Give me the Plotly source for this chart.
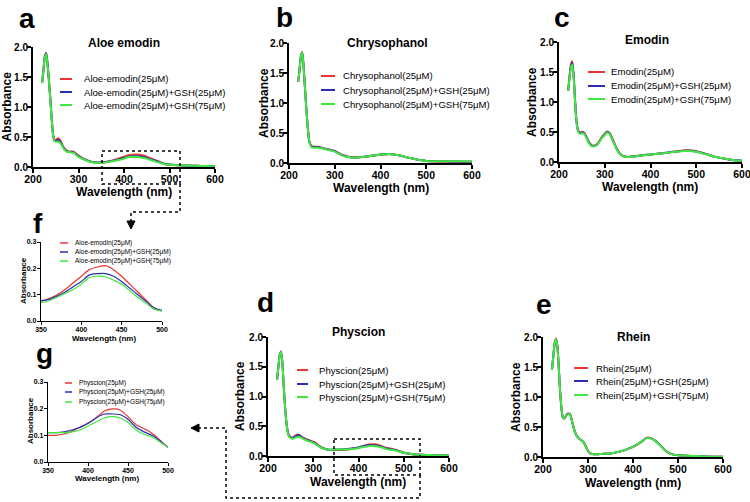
import plotly.graph_objects as go

# ---------------- data ----------------
wavelength = [220, 223, 226, 229, 232, 235, 238, 241, 244, 247, 250, 255, 260, 265, 270, 275,
              280, 285, 290, 295, 300, 305, 310, 315, 320, 330, 340, 350, 360, 370, 380, 390,
              400, 410, 420, 430, 440, 450, 460, 470, 480, 490, 500, 520, 540, 560, 580, 600]

aloe_0 = [1.40, 1.62, 1.84, 1.90, 1.72, 1.45, 1.15, 0.82, 0.55, 0.45, 0.45, 0.48, 0.44, 0.36, 0.30, 0.27,
          0.26, 0.26, 0.25, 0.22, 0.19, 0.165, 0.14, 0.125, 0.11, 0.085, 0.075, 0.075, 0.085, 0.10, 0.12, 0.145,
          0.17, 0.195, 0.205, 0.21, 0.195, 0.17, 0.14, 0.11, 0.08, 0.05, 0.038, 0.03, 0.025, 0.02, 0.015, 0.01]
aloe_25 = [1.40, 1.62, 1.84, 1.89, 1.71, 1.44, 1.14, 0.81, 0.54, 0.44, 0.43, 0.45, 0.42, 0.35, 0.29, 0.26,
           0.25, 0.25, 0.24, 0.21, 0.18, 0.16, 0.135, 0.12, 0.105, 0.082, 0.075, 0.077, 0.082, 0.095, 0.11, 0.13,
           0.15, 0.175, 0.18, 0.18, 0.17, 0.15, 0.125, 0.10, 0.075, 0.05, 0.04, 0.03, 0.025, 0.02, 0.015, 0.01]
aloe_75 = [1.40, 1.62, 1.83, 1.88, 1.70, 1.43, 1.13, 0.80, 0.53, 0.43, 0.42, 0.42, 0.40, 0.34, 0.28, 0.25,
           0.25, 0.24, 0.235, 0.20, 0.17, 0.15, 0.13, 0.115, 0.10, 0.08, 0.07, 0.07, 0.077, 0.09, 0.105, 0.12,
           0.14, 0.165, 0.17, 0.168, 0.155, 0.14, 0.115, 0.09, 0.068, 0.045, 0.038, 0.03, 0.025, 0.02, 0.015, 0.01]

chry_0 = [1.35, 1.55, 1.78, 1.85, 1.60, 1.25, 0.90, 0.60, 0.38, 0.31, 0.28, 0.27, 0.27, 0.265, 0.26, 0.25,
          0.24, 0.23, 0.22, 0.21, 0.20, 0.18, 0.16, 0.14, 0.125, 0.105, 0.095, 0.095, 0.10, 0.11, 0.12, 0.13,
          0.14, 0.145, 0.15, 0.14, 0.13, 0.11, 0.09, 0.075, 0.06, 0.045, 0.035, 0.025, 0.02, 0.02, 0.02, 0.02]
chry_25 = [1.35, 1.55, 1.78, 1.84, 1.59, 1.24, 0.89, 0.59, 0.37, 0.30, 0.27, 0.265, 0.265, 0.26, 0.255, 0.245,
           0.235, 0.225, 0.215, 0.205, 0.195, 0.175, 0.155, 0.135, 0.12, 0.10, 0.09, 0.09, 0.098, 0.108, 0.12, 0.13,
           0.14, 0.145, 0.148, 0.14, 0.13, 0.11, 0.09, 0.075, 0.06, 0.045, 0.035, 0.03, 0.028, 0.025, 0.022, 0.02]
chry_75 = [1.35, 1.55, 1.78, 1.84, 1.59, 1.24, 0.89, 0.59, 0.37, 0.29, 0.26, 0.255, 0.255, 0.25, 0.245, 0.24,
           0.23, 0.22, 0.21, 0.20, 0.19, 0.17, 0.15, 0.13, 0.115, 0.10, 0.09, 0.09, 0.098, 0.108, 0.12, 0.13,
           0.14, 0.145, 0.148, 0.14, 0.13, 0.11, 0.09, 0.075, 0.06, 0.045, 0.035, 0.03, 0.03, 0.03, 0.028, 0.025]

emod_0 = [1.19, 1.42, 1.62, 1.68, 1.45, 1.05, 0.70, 0.55, 0.50, 0.49, 0.50, 0.49, 0.42, 0.34, 0.29, 0.27,
          0.28, 0.31, 0.37, 0.43, 0.47, 0.51, 0.49, 0.42, 0.33, 0.17, 0.10, 0.085, 0.09, 0.10, 0.11, 0.12,
          0.125, 0.135, 0.14, 0.15, 0.16, 0.17, 0.18, 0.19, 0.195, 0.19, 0.18, 0.14, 0.09, 0.06, 0.035, 0.02]
emod_25 = [1.19, 1.41, 1.60, 1.65, 1.43, 1.04, 0.69, 0.54, 0.49, 0.48, 0.49, 0.48, 0.41, 0.33, 0.28, 0.265,
           0.275, 0.305, 0.36, 0.42, 0.46, 0.50, 0.48, 0.41, 0.32, 0.165, 0.10, 0.085, 0.09, 0.10, 0.11, 0.12,
           0.125, 0.135, 0.14, 0.15, 0.16, 0.17, 0.18, 0.185, 0.19, 0.185, 0.175, 0.135, 0.09, 0.06, 0.035, 0.02]
emod_75 = [1.19, 1.40, 1.58, 1.62, 1.41, 1.03, 0.68, 0.53, 0.48, 0.47, 0.48, 0.47, 0.40, 0.32, 0.27, 0.26,
           0.27, 0.30, 0.355, 0.41, 0.45, 0.49, 0.47, 0.40, 0.315, 0.16, 0.10, 0.08, 0.088, 0.098, 0.108, 0.118,
           0.123, 0.133, 0.138, 0.148, 0.158, 0.165, 0.175, 0.18, 0.185, 0.18, 0.17, 0.13, 0.088, 0.058, 0.035, 0.02]

phys_0 = [1.28, 1.50, 1.70, 1.76, 1.55, 1.15, 0.80, 0.55, 0.40, 0.34, 0.32, 0.31, 0.34, 0.36, 0.35, 0.32,
          0.30, 0.28, 0.27, 0.25, 0.24, 0.22, 0.19, 0.16, 0.14, 0.11, 0.10, 0.10, 0.10, 0.105, 0.115, 0.13,
          0.145, 0.165, 0.19, 0.199, 0.195, 0.17, 0.14, 0.125, 0.108, 0.082, 0.056, 0.03, 0.02, 0.015, 0.01, 0.01]
phys_25 = [1.28, 1.50, 1.70, 1.75, 1.54, 1.14, 0.79, 0.54, 0.39, 0.33, 0.31, 0.30, 0.33, 0.35, 0.34, 0.31,
           0.29, 0.27, 0.26, 0.245, 0.23, 0.21, 0.18, 0.155, 0.135, 0.11, 0.105, 0.11, 0.11, 0.113, 0.12, 0.13,
           0.145, 0.165, 0.18, 0.18, 0.178, 0.16, 0.13, 0.113, 0.10, 0.08, 0.055, 0.03, 0.02, 0.015, 0.01, 0.01]
phys_75 = [1.28, 1.50, 1.70, 1.75, 1.54, 1.14, 0.79, 0.54, 0.38, 0.32, 0.30, 0.29, 0.31, 0.32, 0.32, 0.30,
           0.28, 0.26, 0.25, 0.235, 0.22, 0.20, 0.175, 0.15, 0.13, 0.11, 0.105, 0.11, 0.11, 0.11, 0.113, 0.12,
           0.135, 0.15, 0.165, 0.17, 0.165, 0.148, 0.12, 0.104, 0.095, 0.075, 0.055, 0.03, 0.02, 0.015, 0.01, 0.01]

rhein_0 = [1.46, 1.68, 1.90, 1.97, 1.85, 1.50, 1.10, 0.82, 0.66, 0.64, 0.67, 0.72, 0.72, 0.58, 0.44, 0.35,
           0.31, 0.28, 0.25, 0.18, 0.10, 0.06, 0.05, 0.045, 0.045, 0.05, 0.055, 0.06, 0.07, 0.09, 0.11, 0.14,
           0.17, 0.21, 0.26, 0.32, 0.315, 0.27, 0.20, 0.12, 0.065, 0.04, 0.03, 0.02, 0.015, 0.01, 0.005, 0.005]
rhein_25 = [1.46, 1.68, 1.90, 1.96, 1.84, 1.49, 1.10, 0.82, 0.66, 0.64, 0.67, 0.72, 0.71, 0.58, 0.44, 0.35,
            0.31, 0.28, 0.25, 0.18, 0.10, 0.06, 0.05, 0.045, 0.045, 0.05, 0.055, 0.06, 0.07, 0.09, 0.11, 0.14,
            0.17, 0.21, 0.26, 0.315, 0.31, 0.265, 0.20, 0.12, 0.065, 0.04, 0.03, 0.02, 0.015, 0.01, 0.005, 0.005]
rhein_75 = [1.46, 1.68, 1.90, 1.96, 1.84, 1.49, 1.10, 0.82, 0.66, 0.64, 0.67, 0.71, 0.71, 0.58, 0.44, 0.35,
            0.31, 0.28, 0.25, 0.18, 0.10, 0.06, 0.05, 0.045, 0.045, 0.05, 0.055, 0.06, 0.07, 0.09, 0.11, 0.14,
            0.17, 0.21, 0.26, 0.315, 0.31, 0.265, 0.20, 0.12, 0.065, 0.04, 0.03, 0.02, 0.015, 0.01, 0.005, 0.005]

compound_labels = ["Aloe-emodin", "Chrysophanol", "Emodin", "Physcion", "Rhein"]
compound_titles = ["Aloe emodin", "Chrysophanol", "Emodin", "Physcion", "Rhein"]
treatment_labels = ["(25μM)", "(25μM)+GSH(25μM)", "(25μM)+GSH(75μM)"]
spectra = [
    [aloe_0, aloe_25, aloe_75],
    [chry_0, chry_25, chry_75],
    [emod_0, emod_25, emod_75],
    [phys_0, phys_25, phys_75],
    [rhein_0, rhein_25, rhein_75],
]
x_title = "Wavelength (nm)"
y_title = "Absorbance"
full_x_ticks = [200, 300, 400, 500, 600]
full_y_ticks = [0.0, 0.5, 1.0, 1.5, 2.0]
zoom_x_ticks = [350, 400, 450, 500]
zoom_y_ticks = [0.0, 0.1, 0.2, 0.3]

# ---------------- styling / layout ----------------
W, H = 750, 502
FONT = "Liberation Sans, Arial, sans-serif"
colors = ["#ee3535", "#2e2eb4", "#3ee83e"]


def fx(x):
    return x / W


def fy(y):
    return 1 - y / H


# letter, compound index, x0, x1, ytop, ybottom, kind
panels = [
    ("a", 0, 33, 215, 47, 167, "full"),
    ("b", 1, 289, 472, 43, 163, "full"),
    ("c", 2, 559, 742, 42, 162, "full"),
    ("d", 3, 268, 449, 337, 456, "full"),
    ("e", 4, 543, 723, 337, 457, "full"),
    ("f", 0, 41, 162, 242, 321, "zoom"),
    ("g", 3, 48, 168, 382, 462, "zoom"),
]
legend_pos = {
    "a": (60, 72, 82, [79, 92, 105]),
    "b": (321, 335, 341, [76, 90, 104]),
    "c": (588, 605, 609, [72, 86, 99]),
    "d": (297, 308, 317, [370, 384, 397]),
    "e": (574, 588, 594, [368, 381, 395]),
    "f": (60, 68, 73, [243, 252, 261]),
    "g": (65, 72, 77, [383, 392, 402]),
}
title_pos = {"a": (124, 43), "b": (387, 43), "c": (647, 40), "d": (358, 332), "e": (633, 337)}
letter_pos = {"a": (27, 28), "b": (284, 27), "c": (562, 27), "d": (265, 312),
              "e": (544, 314), "f": (38, 233), "g": (44, 363)}
xtitle_pos = {"a": (124, 192), "b": (381, 188), "c": (650, 187), "d": (358, 482),
              "e": (633, 483), "f": (104, 338), "g": (107, 478)}
ytitle_pos = {"a": (6.5, 107), "b": (264, 103), "c": (532, 102), "d": (240, 396),
              "e": (516, 397), "f": (23, 281), "g": (30, 421)}

fig = go.Figure()
layout = dict(template="none", width=W, height=H, margin=dict(l=0, r=0, t=0, b=0, pad=0),
              autosize=False, paper_bgcolor="white", plot_bgcolor="white", showlegend=False,
              font=dict(family=FONT, color="black"))
annotations = []
shapes = []

for i, (letter, ci, x0, x1, yt, yb, kind) in enumerate(panels, start=1):
    full = kind == "full"
    xa = "x" if i == 1 else f"x{i}"
    ya = "y" if i == 1 else f"y{i}"
    lw = 2 if full else 1.2
    for j in range(3):
        fig.add_trace(go.Scatter(
            x=wavelength, y=spectra[ci][j], mode="lines",
            name=compound_labels[ci] + treatment_labels[j],
            line=dict(color=colors[j], width=lw, shape="spline", smoothing=0.6),
            xaxis=xa, yaxis=ya, showlegend=False, hoverinfo="skip"))
    title_size = 12 if full else 8
    axw = 2 if full else 1.3
    common = dict(showline=True, linecolor="black", linewidth=axw, ticks="outside",
                  ticklen=4 if full else 3, tickwidth=axw, tickcolor="black",
                  showgrid=False, zeroline=False, fixedrange=True, automargin=False,
                  ticklabeloverflow="allow")
    layout["xaxis" if i == 1 else f"xaxis{i}"] = dict(
        common, domain=[fx(x0), fx(x1)], anchor=ya,
        range=[200, 600] if full else [350, 500], ticklabelstandoff=-3 if full else -2,
        tickfont=dict(family=FONT, size=10.5 if full else 7, color="black", weight="bold"),
        tickmode="array", tickvals=full_x_ticks if full else zoom_x_ticks)
    layout["yaxis" if i == 1 else f"yaxis{i}"] = dict(
        common, domain=[fy(yb), fy(yt)], anchor=xa,
        range=[0, 2] if full else [0, 0.3], ticklabelstandoff=-3 if full else -1,
        tickfont=dict(family=FONT, size=10 if full else 7, color="black", weight="bold"),
        tickmode="array", tickvals=full_y_ticks if full else zoom_y_ticks, tickformat=".1f")

    tfont = dict(family=FONT, size=title_size, color="black", weight="bold")
    xt, yt_ = xtitle_pos[letter]
    annotations.append(dict(text=x_title, xref="paper", yref="paper", x=fx(xt), y=fy(yt_),
                            xanchor="center", yanchor="middle", showarrow=False, font=tfont))
    xt, yt_ = ytitle_pos[letter]
    annotations.append(dict(text=y_title, xref="paper", yref="paper", x=fx(xt), y=fy(yt_),
                            xanchor="center", yanchor="middle", textangle=-90,
                            showarrow=False, font=tfont))

    # legend (line samples + text)
    lx0, lx1, tx, rows = legend_pos[letter]
    for j in range(3):
        shapes.append(dict(type="line", xref="paper", yref="paper",
                           x0=fx(lx0), x1=fx(lx1), y0=fy(rows[j]), y1=fy(rows[j]),
                           line=dict(color=colors[j], width=2 if full else 1.5)))
        annotations.append(dict(text=compound_labels[ci] + treatment_labels[j],
                                xref="paper", yref="paper", x=fx(tx), y=fy(rows[j]),
                                xanchor="left", yanchor="middle", showarrow=False,
                                font=dict(family=FONT, size=9.6 if full else 6.5, color="black")))
    if letter in title_pos:
        tx_, ty_ = title_pos[letter]
        annotations.append(dict(text=compound_titles[ci], xref="paper", yref="paper",
                                x=fx(tx_), y=fy(ty_), xanchor="center", yanchor="middle",
                                showarrow=False,
                                font=dict(family=FONT, size=12, color="black", weight="bold")))
    lxp, lyp = letter_pos[letter]
    annotations.append(dict(text=letter, xref="paper", yref="paper",
                            x=fx(lxp), y=fy(lyp - 0.35 * 28), xanchor="center", yanchor="middle",
                            showarrow=False,
                            font=dict(family=FONT, size=28, color="black", weight="bold")))


def path(points):
    return "M" + " L".join(f"{fx(x):.5f},{fy(y):.5f}" for x, y in points)


dot = dict(color="black", width=1.5, dash="dot")
# zoom box on panel a and connector to f
shapes.append(dict(type="path", xref="paper", yref="paper", line=dot,
                   path=path([(102, 151), (180, 151), (180, 184), (102, 184), (102, 151)])))
shapes.append(dict(type="path", xref="paper", yref="paper", line=dot,
                   path=path([(180, 184), (180, 212), (131, 212), (131, 221)])))
shapes.append(dict(type="path", xref="paper", yref="paper", fillcolor="black",
                   line=dict(color="black", width=1),
                   path=path([(127, 221), (135, 221), (131, 229)]) + " Z"))
# zoom box on panel d and connector to g
shapes.append(dict(type="path", xref="paper", yref="paper", line=dot,
                   path=path([(334, 439), (420, 439), (420, 475), (334, 475), (334, 439)])))
shapes.append(dict(type="path", xref="paper", yref="paper", line=dot,
                   path=path([(420, 475), (420, 498), (226, 498), (226, 428), (199, 428)])))
shapes.append(dict(type="path", xref="paper", yref="paper", fillcolor="black",
                   line=dict(color="black", width=1),
                   path=path([(199, 424), (199, 432), (191, 428)]) + " Z"))

layout["annotations"] = annotations
layout["shapes"] = shapes
fig.update_layout(**layout)
fig.write_html("out.html", config={"displayModeBar": False},
               post_script="document.body.style.margin='0';document.body.style.overflow='hidden';")
